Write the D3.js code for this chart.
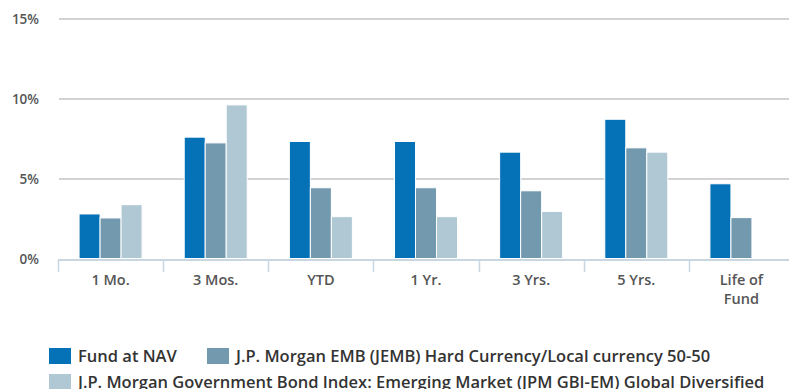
<!DOCTYPE html>
<html>
<head>
<meta charset="utf-8">
<script src="https://cdn.jsdelivr.net/npm/d3@7/dist/d3.min.js"></script>
<style>
  html, body { margin: 0; padding: 0; background: #fff; overflow: hidden; }
  svg { display: block; font-family: "Open Sans", "DejaVu Sans", sans-serif; }
</style>
</head>
<body>
<svg id="chart" width="789" height="389"></svg>
<script>
// Annualized returns by period (percent)
const categories = ["1 Mo.", "3 Mos.", "YTD", "1 Yr.", "3 Yrs.", "5 Yrs.", "Life of Fund"];
const fundAtNav   = [2.79, 7.60, 7.33, 7.33, 6.66, 8.72, 4.68];
const jembIndex   = [2.54, 7.24, 4.43, 4.43, 4.24, 6.93, 2.56];
const gbiEmIndex  = [3.37, 9.62, 2.62, 2.62, 2.95, 6.66, null];
const yTicks = [0, 5, 10, 15];

const seriesNames = [
  "Fund at NAV",
  "J.P. Morgan EMB (JEMB) Hard Currency/Local currency 50-50",
  "J.P. Morgan Government Bond Index: Emerging Market (JPM GBI-EM) Global Diversified"
];
const seriesValues = [fundAtNav, jembIndex, gbiEmIndex];
const colors = ["#0572b8", "#7399ae", "#b0c8d4"];

const svg = d3.select("#chart");
const margin = { left: 58, top: 19, bottom: 131 };
const plotRight = 794;
const height = 389;

const x = d3.scaleBand().domain(categories).range([margin.left, plotRight]).paddingInner(0).paddingOuter(0);
const x1 = d3.scaleBand().domain(d3.range(seriesValues.length)).range([0, 63]);
const y = d3.scaleLinear().domain([0, 15]).range([height - margin.bottom + 0.5, margin.top]);

// horizontal gridlines
svg.append("g")
  .selectAll("line")
  .data(yTicks.filter(t => t > 0))
  .join("line")
  .attr("x1", margin.left + 1)
  .attr("x2", 789)
  .attr("y1", d => Math.round(y(d)))
  .attr("y2", d => Math.round(y(d)))
  .attr("stroke", "#d3d3d3")
  .attr("stroke-width", 2);

// y tick labels
svg.append("g")
  .selectAll("text")
  .data(yTicks)
  .join("text")
  .attr("x", 39)
  .attr("y", d => y(d) + 5)
  .attr("text-anchor", "end")
  .attr("font-size", 13.5)
  .attr("font-weight", 600)
  .attr("fill", "#555")
  .text(d => d + "%");

// bars
const groups = svg.append("g")
  .selectAll("g")
  .data(categories)
  .join("g")
  .attr("transform", d => `translate(${x(d) + (x.bandwidth() - x1.range()[1]) / 2},0)`);

groups.selectAll("rect")
  .data((d, i) => seriesValues.map((s, k) => ({ k, v: s[i] })).filter(o => o.v != null))
  .join("rect")
  .attr("x", d => x1(d.k))
  .attr("width", x1.bandwidth())
  .attr("y", d => y(d.v))
  .attr("height", d => y(0) - y(d.v))
  .attr("fill", d => colors[d.k])
  .attr("stroke", "#fff")
  .attr("stroke-width", 1);

// category axis
const xAxis = d3.axisBottom(x).tickSize(0).tickFormat("");
const axisG = svg.append("g")
  .attr("transform", `translate(0,${Math.round(y(0)) + 1})`)
  .call(xAxis);
axisG.select(".domain").attr("stroke", "#c9d7e3").attr("stroke-width", 2).attr("d", `M${margin.left},0H${plotRight}`);

// boundary ticks between categories
svg.append("g")
  .selectAll("line")
  .data(categories.concat([null]))
  .join("line")
  .attr("x1", (d, i) => Math.round(margin.left + i * x.bandwidth()) + 0.5)
  .attr("x2", (d, i) => Math.round(margin.left + i * x.bandwidth()) + 0.5)
  .attr("y1", Math.round(y(0)) + 1)
  .attr("y2", Math.round(y(0)) + 13)
  .attr("stroke", "#c9d7e3")
  .attr("stroke-width", 1.5);

// category labels (wrap "Life of Fund")
const catLabels = svg.append("g")
  .selectAll("text")
  .data(categories)
  .join("text")
  .attr("x", d => x(d) + x.bandwidth() / 2)
  .attr("y", 285)
  .attr("text-anchor", "middle")
  .attr("font-size", 14.5)
  .attr("font-weight", 600)
  .attr("fill", "#555");
catLabels.each(function(d) {
  const lines = d === "Life of Fund" ? ["Life of", "Fund"] : [d];
  d3.select(this).selectAll("tspan")
    .data(lines)
    .join("tspan")
    .attr("x", x(d) + x.bandwidth() / 2)
    .attr("dy", (l, i) => i === 0 ? 0 : 19)
    .text(l => l);
});

// legend
const legendItems = [
  { k: 0, x: 49, y: 348 },
  { k: 1, x: 207, y: 348 },
  { k: 2, x: 49, y: 374 }
];
const legend = svg.append("g")
  .selectAll("g")
  .data(legendItems)
  .join("g")
  .attr("transform", d => `translate(${d.x},${d.y})`);
legend.append("rect")
  .attr("width", 22)
  .attr("height", 16)
  .attr("fill", d => colors[d.k]);
legend.append("text")
  .attr("x", 29)
  .attr("y", 14)
  .attr("font-size", 16.5)
  .attr("font-weight", 600)
  .attr("fill", "#333")
  .text(d => seriesNames[d.k]);
</script>
</body>
</html>
